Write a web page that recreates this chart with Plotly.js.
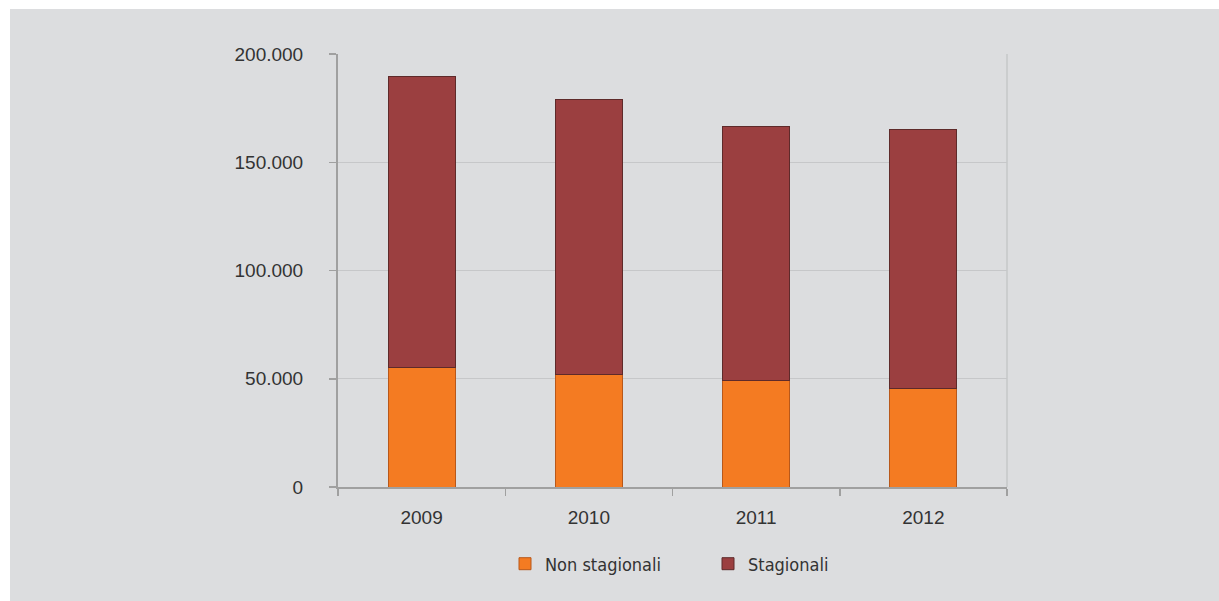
<!DOCTYPE html>
<html>
<head>
<meta charset="utf-8">
<script src="https://cdn.plot.ly/plotly-3.0.1.min.js"></script>
<style>
  html, body { margin: 0; padding: 0; background: #ffffff; }
  #chart { position: absolute; left: 10px; top: 9px; width: 1209px; height: 592px; }
</style>
</head>
<body>
<div id="chart"></div>
<script>
const years = ['2009', '2010', '2011', '2012'];
const nonStagionali = [55100, 52000, 49400, 45600];
const stagionali = [134700, 127100, 117300, 119600];
const yTickVals = [0, 50000, 100000, 150000, 200000];

const traces = [
  {
    type: 'bar',
    name: 'Non stagionali',
    x: years,
    y: nonStagionali,
    marker: { color: '#f47b22', line: { color: '#b8581a', width: 1 } },
    hoverinfo: 'x+y+name'
  },
  {
    type: 'bar',
    name: 'Stagionali',
    x: years,
    y: stagionali,
    marker: { color: '#9b3f40', line: { color: '#5e2a2a', width: 1 } },
    hoverinfo: 'x+y+name'
  }
];

const layout = {
  width: 1209,
  height: 592,
  paper_bgcolor: '#dcdddf',
  plot_bgcolor: '#dcdddf',
  barmode: 'stack',
  bargap: 0.6,
  separators: ',.',
  margin: { l: 328, r: 212, t: 45, b: 114 },
  font: { family: '"Liberation Sans", Arial, sans-serif', size: 19, color: '#333333' },
  showlegend: true,
  legend: {
    orientation: 'h',
    x: (505 - 338) / (1007 - 338),
    xanchor: 'left',
    y: -(564 - 487) / (487 - 54),
    yanchor: 'middle',
    bgcolor: 'rgba(0,0,0,0)',
    entrywidth: 158,
    entrywidthmode: 'pixels',
    traceorder: 'normal',
    font: { family: '"Liberation Sans Narrow", "DejaVu Sans Condensed", Arial, sans-serif', size: 18, color: '#333333' }
  },
  xaxis: {
    type: 'category',
    showgrid: false,
    showline: true,
    linecolor: '#a0a0a0',
    linewidth: 2,
    ticks: 'outside',
    tickson: 'boundaries',
    ticklen: 7,
    tickcolor: '#a0a0a0',
    tickwidth: 1.5,
    ticklabelstandoff: 12,
    zeroline: false,
    fixedrange: true
  },
  yaxis: {
    range: [0, 200000],
    tickvals: yTickVals,
    tickformat: ',d',
    showgrid: true,
    gridcolor: '#c6c7c9',
    gridwidth: 1,
    showline: true,
    linecolor: '#a0a0a0',
    linewidth: 2,
    ticks: 'outside',
    ticklen: 7,
    tickcolor: '#a0a0a0',
    tickwidth: 1.5,
    ticklabelstandoff: 22,
    zeroline: false,
    fixedrange: true
  },
  shapes: [
    {
      type: 'line', xref: 'paper', yref: 'paper',
      x0: 1, x1: 1, y0: 0, y1: 1,
      line: { color: '#c6c7c9', width: 1.5 }, layer: 'below'
    }
  ]
};

Plotly.newPlot('chart', traces, layout, { displayModeBar: false, staticPlot: true });
</script>
</body>
</html>
